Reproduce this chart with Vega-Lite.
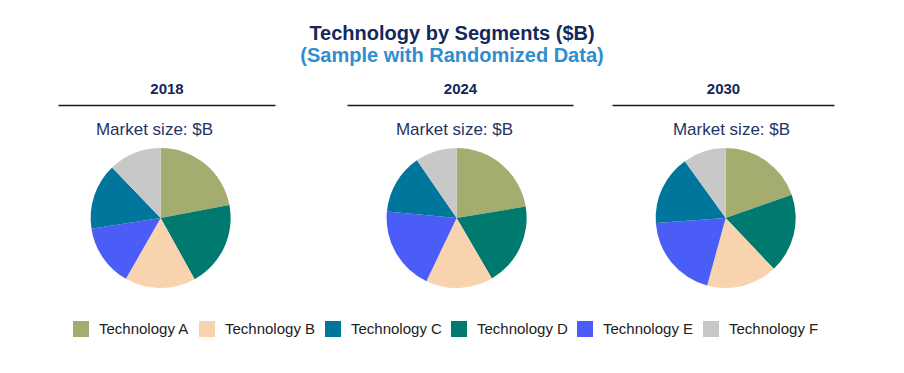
{
  "$schema": "https://vega.github.io/schema/vega-lite/v6.json",
  "padding": {"left": 58, "top": 24, "right": 70, "bottom": 5},
  "title": {
    "text": "Technology by Segments ($B)",
    "subtitle": "(Sample with Randomized Data)",
    "anchor": "middle",
    "dx": 6,
    "font": "Liberation Sans",
    "fontSize": 20,
    "fontWeight": "bold",
    "color": "#13295b",
    "subtitleFont": "Liberation Sans",
    "subtitleFontSize": 20,
    "subtitleFontWeight": "bold",
    "subtitleColor": "#2f8dd0",
    "subtitlePadding": 2,
    "offset": 15
  },
  "data": {
    "values": [
      {"year": 2018, "tech": "Technology A", "rank": 1, "value": 22.0},
      {"year": 2018, "tech": "Technology D", "rank": 2, "value": 19.9},
      {"year": 2018, "tech": "Technology B", "rank": 3, "value": 16.3},
      {"year": 2018, "tech": "Technology E", "rank": 4, "value": 14.3},
      {"year": 2018, "tech": "Technology C", "rank": 5, "value": 15.2},
      {"year": 2018, "tech": "Technology F", "rank": 6, "value": 12.2},
      {"year": 2024, "tech": "Technology A", "rank": 1, "value": 22.4},
      {"year": 2024, "tech": "Technology D", "rank": 2, "value": 19.2},
      {"year": 2024, "tech": "Technology B", "rank": 3, "value": 15.5},
      {"year": 2024, "tech": "Technology E", "rank": 4, "value": 19.4},
      {"year": 2024, "tech": "Technology C", "rank": 5, "value": 13.9},
      {"year": 2024, "tech": "Technology F", "rank": 6, "value": 9.6},
      {"year": 2030, "tech": "Technology A", "rank": 1, "value": 19.6},
      {"year": 2030, "tech": "Technology D", "rank": 2, "value": 18.3},
      {"year": 2030, "tech": "Technology B", "rank": 3, "value": 16.3},
      {"year": 2030, "tech": "Technology E", "rank": 4, "value": 19.6},
      {"year": 2030, "tech": "Technology C", "rank": 5, "value": 16.2},
      {"year": 2030, "tech": "Technology F", "rank": 6, "value": 9.9}
    ]
  },
  "hconcat": [
    {
      "spacing": 72,
      "bounds": "flush",
      "hconcat": [
        {
          "width": 217,
          "height": 150,
          "transform": [{"filter": "datum.year == 2018"}],
          "layer": [
            {
              "mark": {"type": "arc", "radius": 70},
              "encoding": {
                "x": {"datum": 0.473, "type": "quantitative", "scale": {"domain": [0, 1]},
                  "axis": {"orient": "top", "domain": false, "ticks": false, "labels": false, "grid": false, "title": "Market size: $B", "titleX": 96, "titleAlign": "center", "titleFontSize": 17, "titleFontWeight": "normal", "titleColor": "#1f3366", "titleFont": "Liberation Sans", "titlePadding": 5}},
                "theta": {"field": "value", "type": "quantitative", "stack": true},
                "color": {"field": "tech", "type": "nominal",
                  "scale": {"domain": ["Technology A", "Technology B", "Technology C", "Technology D", "Technology E", "Technology F"], "range": ["#a5ac70", "#f8d4ae", "#00769c", "#007a6e", "#4b5df7", "#c8c8c8"]},
                  "legend": {"title": null}},
                "order": {"field": "rank", "type": "quantitative"}
              }
            },
            {
              "mark": {"type": "rule", "opacity": 0},
              "encoding": {
                "x": {"datum": 0.5, "type": "quantitative", "scale": {"domain": [0, 1]},
                  "axis": {"orient": "top", "domain": true, "domainColor": "#1a1a1a", "domainWidth": 1.5, "ticks": false, "labels": false, "grid": false, "title": "2018", "offset": 38, "titleFontSize": 15, "titleFontWeight": "bold", "titleColor": "#13285a", "titleFont": "Liberation Sans", "titlePadding": 9}}
              }
            }
          ],
          "resolve": {"scale": {"x": "independent"}, "axis": {"x": "independent"}}
        },
        {
          "width": 226,
          "height": 150,
          "transform": [{"filter": "datum.year == 2024"}],
          "layer": [
            {
              "mark": {"type": "arc", "radius": 70},
              "encoding": {
                "x": {"datum": 0.485, "type": "quantitative", "scale": {"domain": [0, 1]},
                  "axis": {"orient": "top", "domain": false, "ticks": false, "labels": false, "grid": false, "title": "Market size: $B", "titleX": 107, "titleAlign": "center", "titleFontSize": 17, "titleFontWeight": "normal", "titleColor": "#1f3366", "titleFont": "Liberation Sans", "titlePadding": 5}},
                "theta": {"field": "value", "type": "quantitative", "stack": true},
                "color": {"field": "tech", "type": "nominal",
                  "scale": {"domain": ["Technology A", "Technology B", "Technology C", "Technology D", "Technology E", "Technology F"], "range": ["#a5ac70", "#f8d4ae", "#00769c", "#007a6e", "#4b5df7", "#c8c8c8"]},
                  "legend": {"title": null}},
                "order": {"field": "rank", "type": "quantitative"}
              }
            },
            {
              "mark": {"type": "rule", "opacity": 0},
              "encoding": {
                "x": {"datum": 0.5, "type": "quantitative", "scale": {"domain": [0, 1]},
                  "axis": {"orient": "top", "domain": true, "domainColor": "#1a1a1a", "domainWidth": 1.5, "ticks": false, "labels": false, "grid": false, "title": "2024", "offset": 38, "titleFontSize": 15, "titleFontWeight": "bold", "titleColor": "#13285a", "titleFont": "Liberation Sans", "titlePadding": 9}}
              }
            }
          ],
          "resolve": {"scale": {"x": "independent"}, "axis": {"x": "independent"}}
        }
      ]
    },
    {
      "width": 222,
      "height": 150,
      "transform": [{"filter": "datum.year == 2030"}],
      "layer": [
        {
          "mark": {"type": "arc", "radius": 70},
          "encoding": {
            "x": {"datum": 0.512, "type": "quantitative", "scale": {"domain": [0, 1]},
              "axis": {"orient": "top", "domain": false, "ticks": false, "labels": false, "grid": false, "title": "Market size: $B", "titleX": 119, "titleAlign": "center", "titleFontSize": 17, "titleFontWeight": "normal", "titleColor": "#1f3366", "titleFont": "Liberation Sans", "titlePadding": 5}},
            "theta": {"field": "value", "type": "quantitative", "stack": true},
            "color": {"field": "tech", "type": "nominal",
              "scale": {"domain": ["Technology A", "Technology B", "Technology C", "Technology D", "Technology E", "Technology F"], "range": ["#a5ac70", "#f8d4ae", "#00769c", "#007a6e", "#4b5df7", "#c8c8c8"]},
              "legend": {"title": null}},
            "order": {"field": "rank", "type": "quantitative"}
          }
        },
        {
          "mark": {"type": "rule", "opacity": 0},
          "encoding": {
            "x": {"datum": 0.5, "type": "quantitative", "scale": {"domain": [0, 1]},
              "axis": {"orient": "top", "domain": true, "domainColor": "#1a1a1a", "domainWidth": 1.5, "ticks": false, "labels": false, "grid": false, "title": "2030", "offset": 38, "titleFontSize": 15, "titleFontWeight": "bold", "titleColor": "#13285a", "titleFont": "Liberation Sans", "titlePadding": 9}}
          }
        }
      ],
      "resolve": {"scale": {"x": "independent"}, "axis": {"x": "independent"}}
    }
  ],
  "spacing": 39,
  "config": {
    "view": {"stroke": null},
    "legend": {
      "orient": "bottom",
      "direction": "horizontal",
      "layout": {"bottom": {"anchor": "middle"}},
      "symbolType": "square",
      "symbolSize": 256,
      "symbolStrokeWidth": 0,
      "symbolOpacity": 1,
      "labelFont": "Liberation Sans",
      "labelFontSize": 15,
      "labelColor": "#222222",
      "labelOffset": 10,
      "columnPadding": 9,
      "offset": 28
    }
  }
}
